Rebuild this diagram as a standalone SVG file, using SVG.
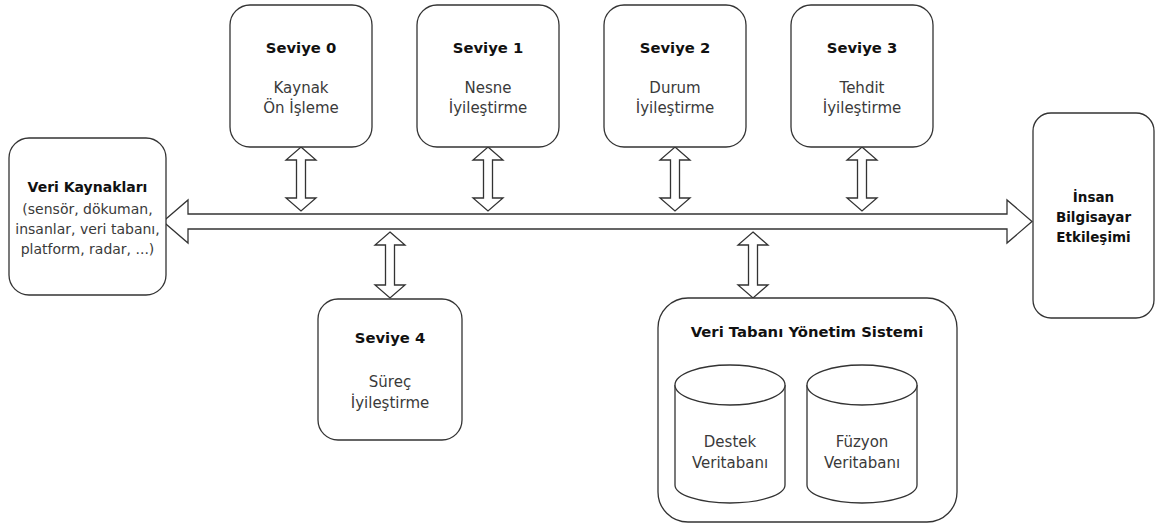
<svg xmlns="http://www.w3.org/2000/svg" width="1156" height="524" viewBox="0 0 1156 524">
<style>
.box{fill:#fff;stroke:#333;stroke-width:1.3}
.arr{fill:#fff;stroke:#333;stroke-width:1.3;stroke-linejoin:miter}
.t{font-family:"DejaVu Sans",Verdana,sans-serif;font-size:15px;fill:#3a3a3a;text-anchor:middle}
.b{font-family:"DejaVu Sans",Verdana,sans-serif;font-size:14.8px;font-weight:bold;fill:#111;text-anchor:middle}
.s{font-size:14px}
.bs{font-size:13.5px}
</style>
<rect width="1156" height="524" fill="#fff"/>
<g id="connectors">
<polygon class="arr" points="163,221.5 188,200 188,214 1007,214 1007,200 1032,221.5 1007,243 1007,229 188,229 188,243"/>
<polygon class="arr" points="301,147 316,160 305.5,160 305.5,198 316,198 301,211 286,198 296.5,198 296.5,160 286,160"/>
<polygon class="arr" points="488,147 503,160 492.5,160 492.5,198 503,198 488,211 473,198 483.5,198 483.5,160 473,160"/>
<polygon class="arr" points="675,147 690,160 679.5,160 679.5,198 690,198 675,211 660,198 670.5,198 670.5,160 660,160"/>
<polygon class="arr" points="862,147 877,160 866.5,160 866.5,198 877,198 862,211 847,198 857.5,198 857.5,160 847,160"/>
<polygon class="arr" points="390,232 405,245 394.5,245 394.5,285 405,285 390,298 375,285 385.5,285 385.5,245 375,245"/>
<polygon class="arr" points="753,232 768,245 757.5,245 757.5,285 768,285 753,298 738,285 748.5,285 748.5,245 738,245"/>
</g>
<g id="veri-kaynaklari">
<rect class="box" x="9" y="138" width="157" height="157" rx="20"/>
<text class="b s" x="87.5" y="192">Veri Kaynakları</text>
<text class="t s" x="87.5" y="214">(sensör, dökuman,</text>
<text class="t s" x="87.5" y="234">insanlar, veri tabanı,</text>
<text class="t s" x="87.5" y="254">platform, radar, ...)</text>
</g>
<g id="seviye0">
<rect class="box" x="230" y="5" width="142" height="142" rx="20"/>
<text class="b" x="301" y="53">Seviye 0</text>
<text class="t" x="301" y="93">Kaynak</text>
<text class="t" x="301" y="113">Ön İşleme</text>
</g>
<g id="seviye1">
<rect class="box" x="417" y="5" width="142" height="142" rx="20"/>
<text class="b" x="488" y="53">Seviye 1</text>
<text class="t" x="488" y="93">Nesne</text>
<text class="t" x="488" y="113">İyileştirme</text>
</g>
<g id="seviye2">
<rect class="box" x="604" y="5" width="142" height="142" rx="20"/>
<text class="b" x="675" y="53">Seviye 2</text>
<text class="t" x="675" y="93">Durum</text>
<text class="t" x="675" y="113">İyileştirme</text>
</g>
<g id="seviye3">
<rect class="box" x="791" y="5" width="142" height="142" rx="20"/>
<text class="b" x="862" y="53">Seviye 3</text>
<text class="t" x="862" y="93">Tehdit</text>
<text class="t" x="862" y="113">İyileştirme</text>
</g>
<g id="insan-bilgisayar">
<rect class="box" x="1033" y="113" width="121" height="205" rx="18"/>
<text class="b bs" x="1093.5" y="202">İnsan</text>
<text class="b bs" x="1093.5" y="222">Bilgisayar</text>
<text class="b bs" x="1093.5" y="242">Etkileşimi</text>
</g>
<g id="seviye4">
<rect class="box" x="318" y="299" width="144" height="141" rx="20"/>
<text class="b" x="390" y="343">Seviye 4</text>
<text class="t" x="390" y="387">Süreç</text>
<text class="t" x="390" y="408">İyileştirme</text>
</g>
<g id="vtys">
<rect class="box" x="658" y="298" width="299" height="224" rx="30"/>
<text class="b" x="807" y="337">Veri Tabanı Yönetim Sistemi</text>
</g>
<g id="destek-db">
<path class="box" d="M675,385 A55,20 0 0 1 785,385 L785,485 A55,18 0 0 1 675,485 Z"/>
<path class="box" fill="none" d="M675,385 A55,20 0 0 0 785,385"/>
<text class="t" x="730" y="447">Destek</text>
<text class="t" x="730" y="468">Veritabanı</text>
</g>
<g id="fuzyon-db">
<path class="box" d="M807,385 A55,20 0 0 1 917,385 L917,485 A55,18 0 0 1 807,485 Z"/>
<path class="box" fill="none" d="M807,385 A55,20 0 0 0 917,385"/>
<text class="t" x="862" y="447">Füzyon</text>
<text class="t" x="862" y="468">Veritabanı</text>
</g>
</svg>
